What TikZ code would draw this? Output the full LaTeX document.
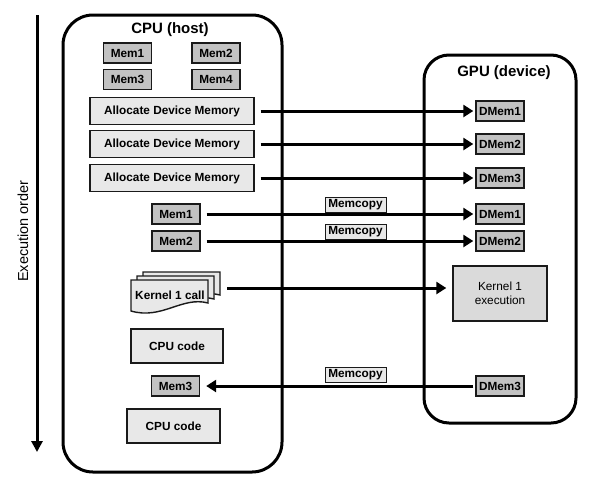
\documentclass[tikz,border=0pt]{standalone}
\usepackage{fontspec}
\setmainfont{Liberation Sans}
\usetikzlibrary{arrows.meta}
\definecolor{memgray}{HTML}{C2C2C2}
\definecolor{lightbox}{HTML}{E8E8E8}
\definecolor{execgray}{HTML}{DADADA}
\definecolor{inkc}{HTML}{1A1A1A}
\tikzset{
  boxtext/.style={font=\fontsize{11.8}{13}\selectfont\bfseries},
  membox/.style={boxtext, draw=inkc, line width=1.4pt, fill=memgray, minimum width=48pt, minimum height=20pt, inner sep=0pt},
  allocbox/.style={boxtext, draw=inkc, line width=1.4pt, fill=lightbox, minimum width=164pt, minimum height=27pt, inner sep=0pt},
  codebox/.style={boxtext, draw=inkc, line width=1.4pt, fill=lightbox, minimum width=92pt, minimum height=34pt, inner sep=0pt},
  copylabel/.style={boxtext, draw=inkc, line width=0.9pt, fill=lightbox, minimum width=61pt, minimum height=15pt, inner sep=0pt, anchor=south},
  container/.style={draw=black, line width=3pt, rounded corners=#1},
  title/.style={font=\fontsize{15}{17}\selectfont\bfseries},
  arr/.style={line width=3pt, -{Triangle[length=10pt,width=12pt]}},
  docshape/.style={draw=inkc, line width=1.4pt, fill=lightbox}
}
\begin{document}
\begin{tikzpicture}[x=1pt,y=-1pt]
\useasboundingbox (0,0) rectangle (599,488);

% containers
\draw[container=30pt] (63,15) rectangle (282,472);
\draw[container=25pt] (424,55) rectangle (576,423);
\node[title] (cputitle) at (170,30) {CPU (host)};
\node[title] (gputitle) at (504,73) {GPU (device)};

% execution order
\coordinate (etop) at (37,15);
\coordinate (ebot) at (37,452);
\draw[line width=3pt, -{Triangle[length=11pt,width=11pt]}] (etop) -- (ebot);
\node[rotate=90, font=\fontsize{14.5}{16}\selectfont] (exlabel) at (23,231) {Execution order};

% CPU memory boxes
\node[membox] (m1) at (127.5,53) {Mem1};
\node[membox] (m2) at (216,53) {Mem2};
\node[membox] (m3) at (127.5,79.5) {Mem3};
\node[membox] (m4) at (216,79.5) {Mem4};

% allocate boxes
\node[allocbox] (a1) at (172,111) {Allocate Device Memory};
\node[allocbox] (a2) at (172,144) {Allocate Device Memory};
\node[allocbox] (a3) at (172,178) {Allocate Device Memory};

% device memories
\node[membox] (d1) at (500,111) {DMem1};
\node[membox] (d2) at (500,144) {DMem2};
\node[membox] (d3) at (500,178) {DMem3};
\node[membox] (d4) at (500,214) {DMem1};
\node[membox] (d5) at (500,241) {DMem2};
\node[membox] (d6) at (500,386) {DMem3};

\draw[arr, shorten <=6pt, shorten >=2pt] (a1) -- (d1);
\draw[arr, shorten <=6pt, shorten >=2pt] (a2) -- (d2);
\draw[arr, shorten <=6pt, shorten >=2pt] (a3) -- (d3);

% memcopies host -> device
\node[membox] (h1) at (176,214) {Mem1};
\node[membox] (h2) at (176,241) {Mem2};
\draw[arr, shorten <=6pt, shorten >=2pt] (h1) -- (d4);
\draw[arr, shorten <=6pt, shorten >=2pt] (h2) -- (d5);
\node[copylabel] (c1) at (355.5,212.4) {Memcopy};
\node[copylabel] (c2) at (355.5,239.4) {Memcopy};

% kernel call document stack
\foreach \dx/\dy in {12/-8, 6/-4, 0/0}
  \draw[docshape, shift={(\dx,\dy)}] (131,280) -- (208,280) -- (208,303)
     .. controls (182,296) and (162,320) .. (131,311) -- cycle;
\node[boxtext] (kcall) at (170,295) {Kernel 1 call};
\coordinate (kstart) at (227,288);
\node[draw=inkc, line width=1.4pt, fill=execgray, minimum width=94pt, minimum height=55pt,
      inner sep=0pt, align=center, font=\fontsize{11.8}{13.5}\selectfont] (kexec) at (500,293.5) {Kernel 1\\execution};
\draw[arr, shorten >=6pt] (kstart) -- (kstart -| kexec.west);

% CPU code and copy back
\node[codebox] (code1) at (177,346) {CPU code};
\node[membox] (h3) at (175.5,386) {Mem3};
\node[codebox, minimum width=93pt] (code2) at (173.5,426) {CPU code};
\draw[arr, shorten <=2pt, shorten >=6pt] (d6) -- (h3);
\node[copylabel] (c3) at (355.5,382.4) {Memcopy};
\end{tikzpicture}
\end{document}
